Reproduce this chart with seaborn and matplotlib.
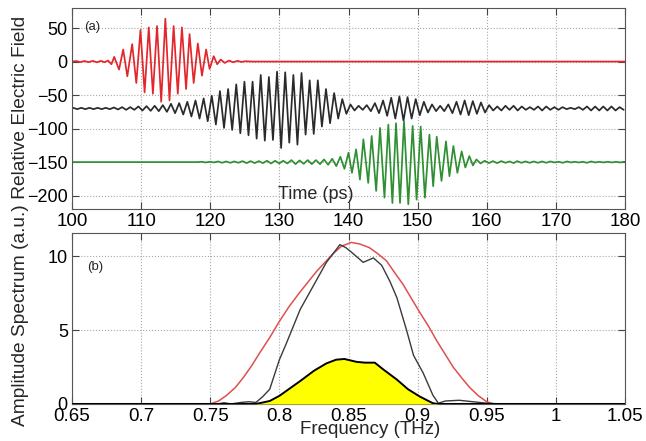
import pandas as pd
import seaborn as sns
import matplotlib
matplotlib.use("Agg")
import matplotlib.pyplot as plt

# ---- (a) time traces: crest / trough points (ps, a.u.) ----
red_pk_t = [100.0, 100.6, 101.8, 103.0, 104.2, 105.2, 106.1, 107.4, 108.7, 109.9,
            111.1, 112.3, 113.5, 114.7, 115.9, 117.0, 118.2, 119.4, 120.5, 121.5,
            122.7, 123.9, 125.1, 126.0, 180.0]
red_pk_v = [0, 0.8, 0.8, 1, 1, 1.5, 7, 18, 26, 47,
            51, 53, 64, 53, 51, 41, 27, 18, 8, 3,
            1.5, 1, 0.5, 0, 0]
red_tr_t = [101.2, 102.4, 103.6, 104.7, 105.7, 106.8, 108.0, 109.3, 110.5, 111.7,
            112.9, 114.1, 115.3, 116.5, 117.6, 118.8, 119.9, 121.0, 122.1, 123.3, 124.5]
red_tr_v = [-0.8, -0.8, -1, -1, -4, -12, -22, -32, -46, -48,
            -60, -58, -48, -41, -32, -21, -11, -4, -2, -1, -0.5]

blk_pk_t = [100.0, 100.16, 101.34, 102.52, 103.70, 104.88, 106.06, 107.24, 108.42, 109.60, 110.78,
            111.96, 113.14, 114.32, 115.50, 116.68, 117.86, 119.04, 120.22, 121.40, 122.58,
            123.76, 124.94, 126.12, 127.30, 128.48, 129.66, 130.84, 132.02, 133.20, 134.38,
            135.56, 136.74, 137.92, 139.10, 140.28, 141.46, 142.64, 143.82, 145.00, 146.18,
            147.36, 148.54, 149.72, 150.90, 152.08, 153.26, 154.44, 155.62, 156.80, 157.98,
            159.16, 160.34, 161.52, 162.70, 163.88, 165.06, 166.24, 167.42, 168.60, 169.78,
            170.96, 172.14, 173.32, 174.50, 175.68, 176.86, 178.04, 179.22]
blk_pk_v = [-70, -69, -69, -69, -69, -69, -68.5, -68, -68, -67, -66.5,
            -66, -65, -63, -62, -60, -58, -55, -51, -44, -41,
            -34, -30, -30, -20, -23, -15, -16, -20, -17, -28,
            -28, -41, -47, -56, -64, -66, -65, -62, -58, -54,
            -52, -53, -56, -60, -64, -66, -64, -60, -58, -59,
            -61, -65, -67, -66, -66, -67, -68, -67, -67, -68,
            -68, -69, -68, -67, -67, -67, -67, -68]
blk_tr_t = [100.75, 101.93, 103.11, 104.29, 105.47, 106.65, 107.83, 109.01, 110.19, 111.37,
            112.55, 113.73, 114.91, 116.09, 117.27, 118.45, 119.63, 120.81, 121.99, 123.17,
            124.35, 125.53, 126.71, 127.89, 129.07, 130.25, 131.43, 132.61, 133.79, 134.97,
            136.15, 137.33, 138.51, 139.69, 140.87, 142.05, 143.23, 144.41, 145.59, 146.77,
            147.95, 149.13, 150.31, 151.49, 152.67, 153.85, 155.03, 156.21, 157.39, 158.57,
            159.75, 160.93, 162.11, 163.29, 164.47, 165.65, 166.83, 168.01, 169.19, 170.37,
            171.55, 172.73, 173.91, 175.09, 176.27, 177.45, 178.63, 179.81]
blk_tr_v = [-71, -71, -71, -71, -71, -71.5, -72, -72, -73, -73.5,
            -74, -75, -77, -79, -82, -85, -89, -94, -99, -102,
            -107, -110, -115, -118, -117, -129, -121, -124, -109, -108,
            -97, -92, -85, -78, -73, -72, -74, -77, -81, -85,
            -88, -85, -80, -76, -74, -74, -77, -79, -80, -78,
            -76, -73, -73, -72, -73, -72, -72, -73, -72, -72,
            -71, -71, -72, -73, -73, -73, -73, -72]

grn_pk_t = [118.76, 119.94, 121.12, 122.30, 123.48, 124.66, 125.84, 127.02, 128.20, 129.38,
            130.56, 131.74, 132.92, 134.10, 135.28, 136.46, 137.64, 138.82, 140.00, 141.10,
            142.15, 143.35, 144.56, 145.76, 146.87, 148.03, 149.28, 150.44, 151.70, 152.76,
            154.10, 155.17, 156.37, 157.48, 158.50, 159.70, 160.90, 162.10, 163.30, 164.40,
            165.60, 166.80, 168.00, 169.20, 170.40, 171.60, 172.70, 173.90, 175.10, 176.30,
            177.50, 178.70, 179.90]
grn_pk_v = [-149.5, -149.5, -149, -149, -149, -148.5, -148.5, -148.5, -148, -148,
            -148, -147, -147.5, -147, -147, -146, -145, -142, -136, -131,
            -116, -111, -99, -94, -92, -89, -96, -97, -109, -112,
            -119, -126, -134, -141, -146, -148, -148.5, -148.5, -149, -148.5,
            -149, -149, -149, -149, -149.5, -149, -149.5, -149.5, -149, -149.5,
            -149.5, -149.5, -149.5]
grn_tr_t = [100.00, 118.17, 119.35, 120.53, 121.71, 122.89, 124.07, 125.25, 126.43, 127.61,
            128.79, 129.97, 131.15, 132.33, 133.51, 134.69, 135.87, 137.05, 138.23, 139.41,
            140.50, 141.65, 142.85, 144.00, 145.20, 146.35, 147.45, 148.65, 149.85, 151.05,
            152.25, 153.45, 154.60, 155.75, 156.90, 158.00, 159.10, 160.30, 161.50, 162.70,
            163.90, 165.00, 166.20, 167.40, 168.60, 169.80, 171.00, 172.20, 173.30, 174.50,
            175.70, 176.90, 178.10, 179.30]
grn_tr_v = [-150, -150, -150.5, -150.5, -151, -151, -151, -151.5, -151.5, -151.5,
            -152, -152, -152, -153, -152.5, -153, -153, -154, -156, -160,
            -166, -176, -181, -193, -203, -211, -211, -213, -206, -203,
            -186, -178, -171, -166, -158, -155, -152, -151.5, -151.5, -151,
            -151.5, -151, -151, -151, -151, -150.5, -151, -150.5, -150.5, -151,
            -150.5, -150.5, -150.5, -150.5]

# ---- (b) amplitude spectra (THz, a.u.) ----
freq_red = [0.65, 0.75, 0.756, 0.762, 0.768, 0.774, 0.780, 0.786, 0.793, 0.80,
            0.807, 0.815, 0.821, 0.827, 0.833, 0.839, 0.845, 0.852, 0.858, 0.865,
            0.871, 0.8775, 0.883, 0.8895, 0.8955, 0.9016, 0.908, 0.9137, 0.9197, 0.9257,
            0.932, 0.9378, 0.944, 0.95, 0.955, 1.05]
amp_red = [0, 0, 0.2, 0.6, 1.1, 1.8, 2.6, 3.5, 4.5, 5.6,
           6.6, 7.6, 8.3, 9.0, 9.6, 10.2, 10.7, 10.95, 10.85, 10.6,
           10.2, 9.7, 8.95, 8.1, 7.15, 6.2, 5.25, 4.3, 3.4, 2.5,
           1.75, 1.1, 0.55, 0.15, 0, 0]

freq_blk = [0.65, 0.755, 0.76, 0.765, 0.772, 0.778, 0.783, 0.788, 0.793, 0.80,
            0.805, 0.815, 0.8245, 0.834, 0.8438, 0.848, 0.852, 0.8606, 0.868, 0.874,
            0.88, 0.885, 0.892, 0.897, 0.904, 0.911, 0.915, 0.92, 0.93, 0.94,
            0.95, 0.96, 1.05]
amp_blk = [0, 0, 0.08, 0, 0.1, 0.15, 0.1, 0.5, 1.0, 3.0,
           4.1, 6.4, 8.0, 9.6, 10.8, 10.6, 10.3, 9.6, 9.9, 9.4,
           8.3, 7.2, 5.0, 3.3, 2.1, 0.6, 0.05, 0.2, 0.25, 0.15,
           0.05, 0, 0]

freq_yel = [0.65, 0.783, 0.793, 0.80, 0.806, 0.815, 0.825, 0.834, 0.841, 0.847,
            0.856, 0.862, 0.869, 0.875, 0.885, 0.893, 0.9016, 0.911, 0.915, 1.05]
amp_yel = [0, 0, 0.2, 0.55, 0.95, 1.55, 2.25, 2.75, 3.0, 3.05,
           2.85, 2.8, 2.8, 2.35, 1.65, 1.0, 0.5, 0.05, 0, 0]

time_ticks = [100, 110, 120, 130, 140, 150, 160, 170, 180]
field_ticks = [-200, -150, -100, -50, 0, 50]
freq_ticks = [0.65, 0.7, 0.75, 0.8, 0.85, 0.9, 0.95, 1.0, 1.05]
freq_labels = ['0.65', '0.7', '0.75', '0.8', '0.85', '0.9', '0.95', '1', '1.05']
amp_ticks = [0, 5, 10]


def trace(pk_t, pk_v, tr_t, tr_v):
    df = pd.concat([pd.DataFrame({'t': pk_t, 'E': pk_v}),
                    pd.DataFrame({'t': tr_t, 'E': tr_v})])
    return df.sort_values('t')


sns.set_style("ticks")
plt.rcParams['font.family'] = ['Liberation Sans', 'DejaVu Sans']

fig = plt.figure(figsize=(6.46, 4.41), dpi=100)
ax1 = fig.add_axes([0.1115, 0.526, 0.856, 0.456])
ax2 = fig.add_axes([0.1115, 0.084, 0.856, 0.388])

traces = [(trace(red_pk_t, red_pk_v, red_tr_t, red_tr_v), '#e3262b'),
          (trace(blk_pk_t, blk_pk_v, blk_tr_t, blk_tr_v), '#2a2a2a'),
          (trace(grn_pk_t, grn_pk_v, grn_tr_t, grn_tr_v), '#2f8f32')]
for df, c in traces:
    sns.lineplot(data=df, x='t', y='E', ax=ax1, color=c, lw=1.25,
                 estimator=None, sort=False)

ax1.set_xlim(100, 180)
ax1.set_ylim(-220, 80)
ax1.set_xticks(time_ticks)
ax1.set_yticks(field_ticks)
ax1.text(135.3, -198, 'Time (ps)', ha='center', va='center', fontsize=13)
ax1.text(101.8, 51, '(a)', ha='left', va='center', fontsize=9.5)

spec = pd.DataFrame({'f': freq_red, 'A': amp_red})
sns.lineplot(data=spec, x='f', y='A', ax=ax2, color='#de5050', lw=1.1, estimator=None)
spec_b = pd.DataFrame({'f': freq_blk, 'A': amp_blk})
sns.lineplot(data=spec_b, x='f', y='A', ax=ax2, color='#3a3a3a', lw=1.0, estimator=None)
ax2.fill_between(freq_yel, amp_yel, 0, color='#ffff00', lw=0, zorder=3)
spec_y = pd.DataFrame({'f': freq_yel, 'A': amp_yel})
sns.lineplot(data=spec_y, x='f', y='A', ax=ax2, color='black', lw=1.4, estimator=None)
ax2.lines[-1].set_zorder(4)

ax2.set_xlim(0.65, 1.05)
ax2.set_ylim(0, 11.6)
ax2.set_xticks(freq_ticks)
ax2.set_xticklabels(freq_labels)
ax2.set_yticks(amp_ticks)
ax2.text(0.661, 9.3, '(b)', ha='left', va='center', fontsize=9.5)

for ax in (ax1, ax2):
    ax.set_axisbelow(True)
    ax.grid(True, ls=':', color='#a8a8a8', lw=0.8)
    ax.tick_params(direction='in', top=True, right=True, length=5, width=0.8,
                   color='#444444', labelcolor='black', pad=3)
    ax.tick_params(axis='x', labelsize=13.5)
    ax.tick_params(axis='y', labelsize=13)
    for s in ax.spines.values():
        s.set_color('#555555')
        s.set_linewidth(0.8)
    ax.set_xlabel('')
    ax.set_ylabel('')

fig.text(0.031, 0.499, 'Amplitude Spectrum (a.u.) Relative Electric Field',
         rotation=90, ha='center', va='center', fontsize=13.8)
fig.text(0.573, 0.025, 'Frequency (THz)', ha='center', va='center', fontsize=13.5)

fig.savefig('out.png', dpi=100)
